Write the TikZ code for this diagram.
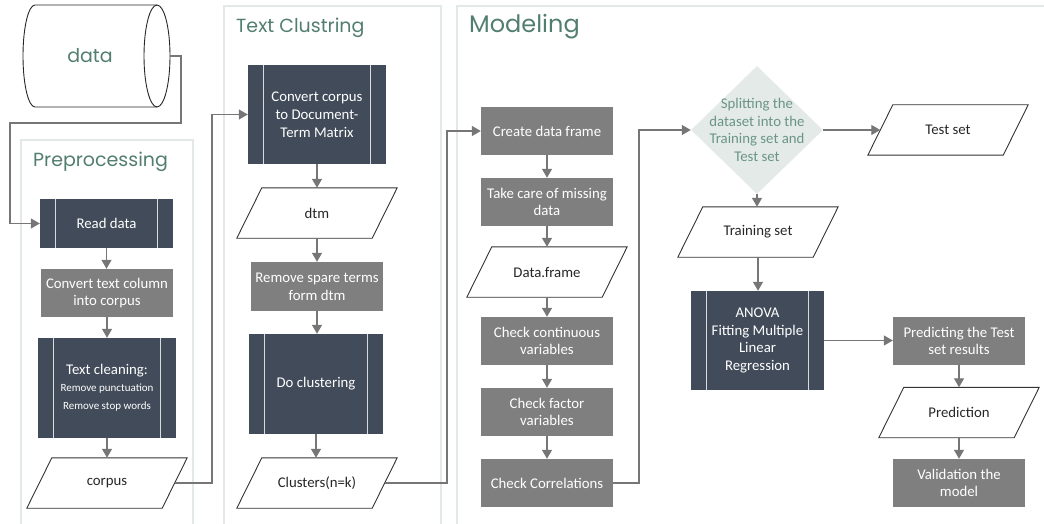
\documentclass[tikz,border=0pt]{standalone}
\usepackage{fontspec}
\setmainfont{Carlito}
\newfontfamily\headfont{Poppins}
\usetikzlibrary{shapes.geometric,arrows.meta}
\definecolor{darkbox}{HTML}{414B59}
\definecolor{graybox}{HTML}{7F7F7F}
\definecolor{headgreen}{HTML}{527E70}
\definecolor{panelline}{HTML}{E3E9E7}
\definecolor{diamfill}{HTML}{E4EAE7}
\definecolor{diamtext}{HTML}{6A9586}
\definecolor{connline}{HTML}{767676}
\begin{document}
\begin{tikzpicture}[x=1pt,y=-1pt,
  base/.style={inner sep=0pt, align=center, font=\fontsize{14.8}{17.8}\selectfont},
  predef/.style={base, fill=darkbox, text=white},
  procbox/.style={base, fill=graybox, text=white, minimum width=132pt, minimum height=48pt},
  iobox/.style={base, text=black!85, minimum width=135pt, minimum height=50pt},
  ioframe/.style={draw=black!80, line width=0.9pt},
  sideline/.style={draw=white!80!darkbox, line width=0.8pt},
  panel/.style={draw=panelline, line width=1.5pt},
  heading/.style={anchor=base west, inner sep=0pt, text=headgreen},
  conn/.style={draw=connline, line width=1.3pt},
  arr/.style={conn, -{Triangle[width=10pt,length=9pt]}},
]
\useasboundingbox (0,0) rectangle (1044,524);

% stage panels
\draw[panel] (21,527) -- (21,140) -- (193,140) -- (193,527);
\draw[panel] (224,527) -- (224,6) -- (441,6) -- (441,527);
\draw[panel] (457,527) -- (457,6) -- (1047,6);
\node[heading, font=\headfont\fontsize{19}{21}\selectfont] at (33,167) {Preprocessing};
\node[heading, font=\headfont\fontsize{19}{21}\selectfont] at (236,33) {Text Clustring};
\node[heading, font=\headfont\fontsize{24}{26}\selectfont] at (469,33) {Modeling};

% data source: horizontal cylinder
\node[inner sep=0pt, minimum width=160pt, minimum height=102pt,
      text=headgreen, font=\headfont\fontsize{19}{22}\selectfont] (data) at (90,56) {data};
\draw[black!85, line width=0.9pt] (157,5) -- (35,5)
  arc[start angle=-90, end angle=-270, x radius=12, y radius=51] -- (157,107);
\draw[black!85, line width=0.9pt] (157,56) ellipse[x radius=13, y radius=51];

% preprocessing
\node[predef, minimum width=133pt, minimum height=49pt] (read) at (106.5,223.5) {Read data};
\node[procbox] (totext) at (107,293) {Convert text column\\into corpus};
\node[predef, minimum width=138pt, minimum height=100pt] (clean) at (107,388)
  {Text cleaning:\\[-1pt]{\fontsize{11}{17}\selectfont Remove punctuation}\\{\fontsize{11}{17}\selectfont Remove stop words}};
\node[iobox] (corpus) at (107,483) {corpus};

% text clustering
\node[predef, minimum width=138pt, minimum height=99pt] (convcorp) at (317,114.5) {Convert corpus\\to Document-\\Term Matrix};
\node[iobox] (dtm) at (317,213) {dtm};
\node[procbox, minimum height=49pt] (sparse) at (317,286.5) {Remove spare terms\\form dtm};
\node[predef, minimum width=134pt, minimum height=100pt] (clus) at (316,384) {Do clustering};
\node[iobox] (clusters) at (317,483) {Clusters(n=k)};

% modeling
\node[procbox] (create) at (547,131) {Create data frame};
\node[procbox] (missing) at (547,202) {Take care of missing\\data};
\node[iobox] (dframe) at (547,272) {Data.frame};
\node[procbox] (contin) at (547,341) {Check continuous\\variables};
\node[procbox] (factor) at (547,412) {Check factor\\variables};
\node[procbox] (corr) at (547,483) {Check Correlations};

\node[diamond, fill=diamfill, minimum width=132pt, minimum height=128pt, inner sep=0pt] (split) at (757,130) {};
\node[base, text=diamtext] at (split.center) {Splitting the\\dataset into the\\Training set and\\Test set};
\node[iobox] (testset) at (948,130) {Test set};
\node[iobox] (training) at (758,232) {Training set};
\node[predef, minimum width=133pt, minimum height=99pt] (anova) at (757.5,340.5) {ANOVA\\Fitting Multiple\\Linear\\Regression};
\node[procbox] (predict) at (959,341) {Predicting the Test\\set results};
\node[iobox] (prediction) at (959,412.5) {Prediction};
\node[procbox] (valid) at (959,483) {Validation the\\model};

% side bars of predefined processes
\foreach \n in {read,clean,convcorp,clus,anova} {
  \draw[sideline] ([xshift=16pt]\n.north west) -- ([xshift=16pt]\n.south west);
  \draw[sideline] ([xshift=-16pt]\n.north east) -- ([xshift=-16pt]\n.south east);
}
% slanted outlines of data nodes
\foreach \n in {corpus,dtm,clusters,dframe,testset,training,prediction} {
  \draw[ioframe] ([xshift=-12.5pt]\n.south west) -- ([xshift=-12.5pt]\n.south east)
    -- ([xshift=12.5pt]\n.north east) -- ([xshift=12.5pt]\n.north west) -- cycle;
}

% connectors
\coordinate (d1) at (181,123);
\coordinate (d2) at (10,123);
\coordinate (c1) at (212,483);
\coordinate (c2) at (447,483);
\coordinate (c3) at (639,483);
\draw[arr] (data.east) -| (d1) -- (d2) |- (read.west);
\draw[arr] (corpus.east) -- (c1) |- (convcorp.west);
\draw[arr] (clusters.east) -- (c2) |- (create.west);
\draw[arr] (corr.east) -- (c3) |- (split.west);

\draw[arr] (read.south) -- (read.south |- totext.north);
\draw[arr] (totext.south) -- (totext.south |- clean.north);
\draw[arr] (clean.south) -- (clean.south |- corpus.north);

\draw[arr] (convcorp.south) -- (convcorp.south |- dtm.north);
\draw[arr] (dtm.south) -- (dtm.south |- sparse.north);
\draw[arr] (sparse.south) -- (sparse.south |- clus.north);
\draw[arr] (clus.south) -- (clus.south |- clusters.north);

\draw[arr] (create.south) -- (create.south |- missing.north);
\draw[arr] (missing.south) -- (missing.south |- dframe.north);
\draw[arr] (dframe.south) -- (dframe.south |- contin.north);
\draw[arr] (contin.south) -- (contin.south |- factor.north);
\draw[arr] (factor.south) -- (factor.south |- corr.north);

\draw[arr] (split.east) -- (split.east -| testset.west);
\draw[arr] (split.south) -- (split.south |- training.north);
\draw[arr] (training.south) -- (training.south |- anova.north);
\draw[arr] (anova.east) -- (anova.east -| predict.west);
\draw[arr] (predict.south) -- (predict.south |- prediction.north);
\draw[arr] (prediction.south) -- (prediction.south |- valid.north);
\end{tikzpicture}
\end{document}
